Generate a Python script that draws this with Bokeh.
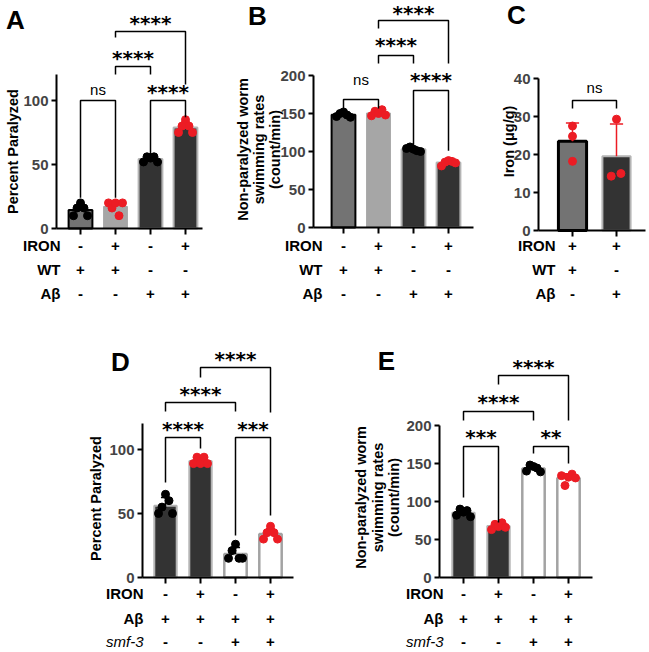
import numpy as np
from bokeh.plotting import figure
from bokeh.models import Range1d, LinearAxis, FixedTicker
from bokeh.layouts import row, column
from bokeh.embed import file_html
from bokeh.resources import INLINE
from bokeh.core.properties import value

FONT = "Liberation Sans"
STAR_FONT = "DejaVu Sans"
RED = "#ec1c24"
BLK = "#000000"

# ---------------- data ----------------
A_points = [[10, 16, 20, 16, 10], [20, 16, 20, 10, 20], [52, 56, 55, 56, 52], [75, 80, 85, 80, 75]]
A_ticks = [0, 50, 100]
A_ymax = 120
A_rows = ["IRON", "WT", "Aβ"]
A_table = [["-", "+", "-", "+"], ["+", "+", "-", "-"], ["-", "-", "+", "+"]]
# (left bar, right bar, label, bracket height, left leg end, right leg end, label height)
A_brackets = [(0, 1, "ns", 100, 24, 24, 108.6),
              (2, 3, "****", 100, 58, 87, 107.8),
              (1, 2, "****", 126.6, 120.3, 120.3, 134.4),
              (1, 3, "****", 153.9, 149.2, 112.5, 161.7)]

B_points = [[146, 150, 152, 148, 145], [147, 153, 150, 155, 148], [104, 106, 103, 101, 100], [81, 86, 88, 87, 85]]
B_ticks = [0, 50, 100, 150, 200]
B_ymax = 200
B_rows = ["IRON", "WT", "Aβ"]
B_table = [["-", "+", "-", "+"], ["+", "+", "-", "-"], ["-", "-", "+", "+"]]
B_brackets = [(0, 1, "ns", 168.4, 156.6, 156.6, 194.7),
              (2, 3, "****", 180.3, 108, 101, 196),
              (1, 2, "****", 226.3, 215.8, 215.8, 242.1),
              (1, 3, "****", 272.4, 261.8, 215.8, 284.5)]

C_points = [[27.5, 24.8, 18.2], [29.3, 14.3, 15.0]]
C_ticks = [0, 10, 20, 30, 40]
C_ymax = 40
C_rows = ["IRON", "WT", "Aβ"]
C_table = [["+", "+"], ["+", "-"], ["-", "+"]]
C_brackets = [(0, 1, "ns", 34.2, 32.1, 32.1, 37.6)]

D_points = [[50, 55, 65, 60, 50], [89, 94, 89, 94, 89], [15, 21, 26, 15, 15], [30, 35, 40, 35, 30]]
D_ticks = [0, 50, 100]
D_ymax = 120
D_rows = ["IRON", "Aβ", "smf-3"]
D_table = [["-", "+", "-", "+"], ["+", "+", "+", "+"], ["-", "-", "+", "+"]]
D_brackets = [(0, 1, "****", 109.4, 74.2, 100.8, 117.2),
              (2, 3, "***", 109.4, 32.8, 48.4, 117.2),
              (0, 2, "****", 136.7, 129.7, 129.7, 144.5),
              (1, 3, "****", 164.1, 156.3, 128.9, 171.9)]

E_points = [[82, 90, 86, 88, 80], [63, 70, 67, 72, 66], [140, 148, 146, 144, 139], [134, 121, 132, 136, 131]]
E_ticks = [0, 50, 100, 150, 200]
E_ymax = 200
E_rows = ["IRON", "Aβ", "smf-3"]
E_table = [["-", "+", "-", "+"], ["+", "+", "+", "+"], ["-", "-", "+", "+"]]
E_brackets = [(0, 1, "***", 172.4, 105.3, 72.4, 186.8),
              (2, 3, "**", 172.4, 163.2, 150, 186.8),
              (0, 2, "****", 218.4, 206.6, 206.6, 232.9),
              (1, 3, "****", 265.8, 253.9, 206.6, 278.9)]

# ---------------- layout helpers ----------------
DARK = "#333333"
MID = "#737373"
LIGHT = "#a6a6a6"
RIM = "#b4b4b4"
WHITE_RIM = "#a3a3a3"


def make_panel(box, geom):
    X, Y, W, H = box
    xpix0, dx, ypix0, k = geom
    fx = lambda rx: (rx - xpix0) / dx
    fy = lambda ry: (ypix0 - ry) / k
    p = figure(width=W, height=H, x_range=Range1d(fx(X), fx(X + W)),
               y_range=Range1d(fy(Y + H), fy(Y)), output_backend="svg",
               toolbar_location=None, x_axis_location=None, y_axis_location=None,
               min_border=0, outline_line_color=None)
    p.grid.visible = False
    return p, fx, fy


def draw(cfg):
    p, fx, fy = make_panel(cfg["box"], cfg["geom"])
    pts = cfg["points"]
    n = len(pts)
    idx = list(range(n))
    means = [float(np.mean(v)) for v in pts]
    sds = [float(np.std(v, ddof=1)) for v in pts]
    tops = [m + s for m, s in zip(means, sds)]

    p.vbar(x=idx, top=means, bottom=0, width=cfg["bw"], fill_color=cfg["fills"],
           line_color=cfg["outlines"], line_width=cfg["olw"])

    ecol = cfg["ecolors"]
    p.segment(x0=idx, y0=means, x1=idx, y1=tops, line_color=ecol, line_width=1.5)
    c = cfg["cap"]
    p.segment(x0=[i - c for i in idx], y0=tops, x1=[i + c for i in idx], y1=tops,
              line_color=ecol, line_width=1.5)

    for i, v in enumerate(pts):
        offs = cfg["offsets"][i] if isinstance(cfg["offsets"][0], list) else cfg["offsets"]
        p.scatter(x=[i + o for o in offs[:len(v)]], y=v, size=8,
                  fill_color=cfg["pcolors"][i], line_color=cfg["pcolors"][i])

    for (a, b, lab, yh, yl, yr, yt) in cfg["brackets"]:
        p.line(x=[a, a, b, b], y=[yl, yh, yh, yr], line_color=BLK, line_width=1.5)
        if lab == "ns":
            p.text(x=[(a + b) / 2], y=[yt], text=[lab], text_font=value(FONT),
                   text_font_size="15px", text_align="center", text_baseline="alphabetic",
                   y_offset=0, text_color=BLK)
        else:
            p.text(x=[(a + b) / 2], y=[yt], text=[lab], text_font=value(STAR_FONT),
                   text_font_size="20px", text_font_style="bold", text_align="center",
                   text_baseline="alphabetic", y_offset=1.5, text_color=BLK)

    yax = LinearAxis(fixed_location=fx(cfg["yaxis_x"]), bounds=(0, cfg["ymax"]),
                     ticker=FixedTicker(ticks=cfg["ticks"]), axis_line_width=2,
                     major_tick_line_width=2, major_tick_out=5, major_tick_in=0,
                     minor_tick_line_color=None, major_label_text_font=FONT,
                     major_label_text_font_style="bold", major_label_text_font_size="15px",
                     major_label_standoff=3)
    p.add_layout(yax, "left")
    xax = LinearAxis(fixed_location=0, bounds=(fx(cfg["yaxis_x"]), fx(cfg["xaxis_end"])),
                     ticker=FixedTicker(ticks=idx), axis_line_width=2,
                     major_tick_line_width=2, major_tick_out=6, major_tick_in=0,
                     minor_tick_line_color=None,
                     major_label_overrides={i: "" for i in idx})
    p.add_layout(xax, "below")

    lx, ly = cfg["letter_pos"]
    p.text(x=[fx(lx)], y=[fy(ly)], text=[cfg["letter"]], text_font=value(FONT),
           text_font_size="26px", text_font_style="bold", text_align="center",
           text_baseline="alphabetic", y_offset=-1, text_color=BLK)

    for line, lxp in zip(cfg["ylabel"], cfg["ylabel_x"]):
        p.text(x=[fx(lxp)], y=[fy(cfg["ylabel_y"])], text=[line], angle=np.pi / 2,
               text_font=value(FONT), text_font_size="14.5px", text_font_style="bold",
               text_align="center", text_baseline="middle", text_color=BLK)

    for r, (lab, vals, ry) in enumerate(zip(cfg["rows"], cfg["table"], cfg["rows_y"])):
        italic = lab.startswith("smf")
        p.text(x=[fx(cfg["rowlab_x"])], y=[fy(ry)], text=[lab], text_font=value(FONT),
               text_font_size="15px", text_font_style="italic" if italic else "bold",
               text_align="right", text_baseline="alphabetic", y_offset=-2, text_color=BLK)
        p.text(x=idx, y=[fy(ry)] * n, text=vals, text_font=value(FONT),
               text_font_size="15px", text_font_style="bold", text_align="center",
               text_baseline="alphabetic", y_offset=-2, text_color=BLK)
    return p


OFF5 = [-0.2, -0.1, 0.0, 0.1, 0.2]
TOP_ROWS = [247, 271, 295]
BOT_ROWS = [595, 620, 643]

pA = draw(dict(box=(0, 0, 212, 322), geom=(80, 35, 228, 1.28), points=A_points,
               fills=[MID, LIGHT, DARK, DARK], outlines=[BLK, LIGHT, RIM, RIM], olw=[2, 1, 2, 2],
               bw=0.68, ecolors=[BLK, RED, BLK, RED], cap=0.13, offsets=OFF5,
               pcolors=[BLK, RED, BLK, RED], brackets=A_brackets, yaxis_x=56, xaxis_end=202,
               ymax=A_ymax, ticks=A_ticks, letter="A", letter_pos=(15, 20),
               ylabel=["Percent Paralyzed"], ylabel_x=[12], ylabel_y=151,
               rows=A_rows, table=A_table, rows_y=TOP_ROWS, rowlab_x=60))

pB = draw(dict(box=(212, 0, 268, 322), geom=(343, 35, 227, 0.76), points=B_points,
               fills=[MID, LIGHT, DARK, DARK], outlines=[BLK, LIGHT, RIM, RIM], olw=[2, 1, 2, 2],
               bw=0.68, ecolors=[BLK, RED, BLK, RED], cap=0.13, offsets=OFF5,
               pcolors=[BLK, RED, BLK, RED], brackets=B_brackets, yaxis_x=313, xaxis_end=473,
               ymax=B_ymax, ticks=B_ticks, letter="B", letter_pos=(257, 16),
               ylabel=["Non-paralyzed worm", "swimming rates", "(count/min)"],
               ylabel_x=[242, 258, 274], ylabel_y=149,
               rows=B_rows, table=B_table, rows_y=TOP_ROWS, rowlab_x=322))

pC = draw(dict(box=(480, 0, 169, 322), geom=(572, 44, 230, 3.8), points=C_points,
               fills=[MID, DARK], outlines=[BLK, RIM], olw=[3, 2],
               bw=0.64, ecolors=[RED, RED], cap=0.15,
               offsets=[[0.0, 0.0, 0.0], [0.0, -0.12, 0.1]],
               pcolors=[RED, RED], brackets=C_brackets, yaxis_x=538, xaxis_end=645,
               ymax=C_ymax, ticks=C_ticks, letter="C", letter_pos=(516, 15),
               ylabel=["Iron (μg/g)"], ylabel_x=[508], ylabel_y=141,
               rows=C_rows, table=C_table, rows_y=TOP_ROWS, rowlab_x=555))

pD = draw(dict(box=(0, 322, 326, 330), geom=(165, 35, 577, 1.28), points=D_points,
               fills=[DARK, DARK, "#ffffff", "#ffffff"], outlines=[RIM, RIM, WHITE_RIM, WHITE_RIM],
               olw=[2, 2, 2.5, 2.5], bw=0.64, ecolors=[BLK, RED, BLK, RED], cap=0.13,
               offsets=OFF5, pcolors=[BLK, RED, BLK, RED], brackets=D_brackets,
               yaxis_x=142, xaxis_end=293, ymax=D_ymax, ticks=D_ticks, letter="D",
               letter_pos=(120, 362), ylabel=["Percent Paralyzed"], ylabel_x=[95], ylabel_y=498,
               rows=D_rows, table=D_table, rows_y=BOT_ROWS, rowlab_x=143))

pE = draw(dict(box=(326, 322, 323, 330), geom=(463, 35, 577, 0.76), points=E_points,
               fills=[DARK, DARK, "#ffffff", "#ffffff"], outlines=[RIM, RIM, WHITE_RIM, WHITE_RIM],
               olw=[2, 2, 2.5, 2.5], bw=0.64, ecolors=[BLK, RED, BLK, RED], cap=0.13,
               offsets=OFF5, pcolors=[BLK, RED, BLK, RED], brackets=E_brackets,
               yaxis_x=439, xaxis_end=592, ymax=E_ymax, ticks=E_ticks, letter="E",
               letter_pos=(386, 361), ylabel=["Non-paralyzed worm", "swimming rates", "(count/min)"],
               ylabel_x=[360, 377, 393], ylabel_y=497,
               rows=E_rows, table=E_table, rows_y=BOT_ROWS, rowlab_x=443))

layout = column(row(pA, pB, pC), row(pD, pE))
open("out.html", "w").write(file_html(layout, INLINE))
